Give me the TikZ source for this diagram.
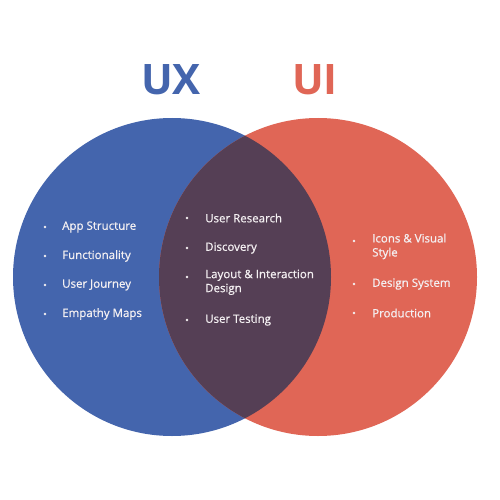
\documentclass[tikz,border=0pt]{standalone}
\usepackage{fontspec}
\setmainfont{Open Sans}
\newfontfamily\itemfont{Open Sans}[FakeBold=0.7]
\definecolor{uxblue}{HTML}{4465AD}
\definecolor{uired}{HTML}{E06656}
\definecolor{overlap}{HTML}{553F55}
\definecolor{txt}{HTML}{F4F0F2}
\begin{document}
\begin{tikzpicture}[x=1pt,y=-1pt,
  item/.style={anchor=west,inner sep=0pt,text=txt,font=\itemfont\fontsize{11.5}{14}\selectfont,align=left},
  dot/.style={circle,fill=txt,inner sep=0pt,minimum size=2.6pt},
  title/.style={font=\fontsize{42}{42}\selectfont\bfseries,inner sep=0pt}]
\useasboundingbox (0,0) rectangle (500,500);
\fill[white] (0,0) rectangle (500,500);
\def\R{159}
\fill[uxblue] (172,277) circle (\R);
\fill[uired] (318,277) circle (\R);
\begin{scope}
\clip (172,277) circle (\R);
\fill[overlap] (318,277) circle (\R);
\end{scope}
\node[title,text=uxblue] (ux) at (171,80) {UX};
\node[title,text=uired] (ui) at (315,80) {UI};
% left
\node[dot] (b1) at (45,227) {};
\node[item] (t1) at (62,227) {App Structure};
\node[dot] (b2) at (45,256) {};
\node[item] (t2) at (62,256) {Functionality};
\node[dot] (b3) at (45,285) {};
\node[item] (t3) at (62,285) {User Journey};
\node[dot] (b4) at (45,314) {};
\node[item] (t4) at (62,314) {Empathy Maps};
% middle
\node[dot] (m1) at (187,218) {};
\node[item] (u1) at (205,218) {User Research};
\node[dot] (m2) at (187,248) {};
\node[item] (u2) at (205,248) {Discovery};
\node[dot] (m3) at (187,277) {};
\node[item,anchor=north west] (u3) at (205,269.5) {Layout \& Interaction\\Design};
\node[dot] (m4) at (187,320) {};
\node[item] (u4) at (205,320) {User Testing};
% right
\node[dot] (r1) at (354,241) {};
\node[item,anchor=north west] (v1) at (372,233.5) {Icons \& Visual\\Style};
\node[dot] (r2) at (354,284) {};
\node[item] (v2) at (372,284) {Design System};
\node[dot] (r3) at (354,313) {};
\node[item] (v3) at (372,313) {Production};
\end{tikzpicture}
\end{document}
